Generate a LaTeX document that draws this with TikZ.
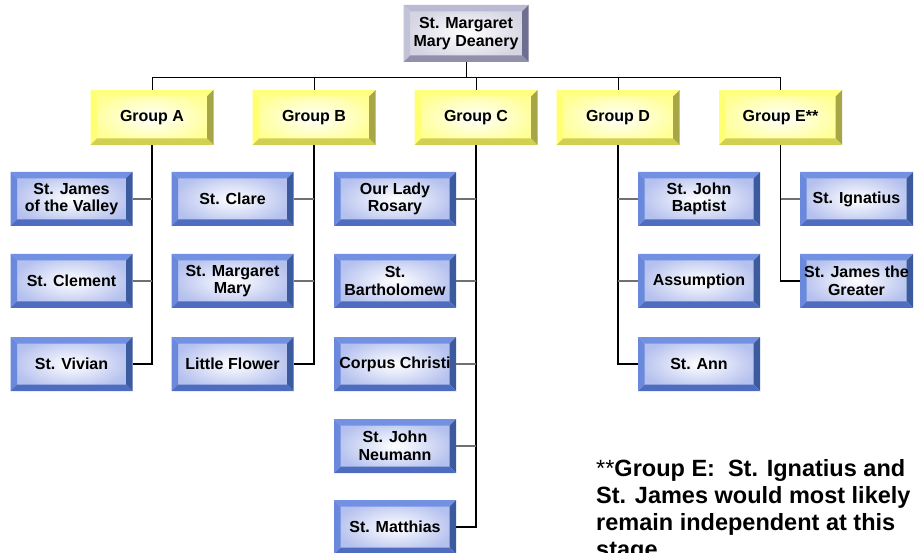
\documentclass[tikz,border=0pt]{standalone}
\usepackage{fontspec}
\setmainfont{Liberation Sans}
\usetikzlibrary{calc}
\definecolor{bTop}{HTML}{7391E2}
\definecolor{bLeft}{HTML}{6A89DC}
\definecolor{bRight}{HTML}{3C5A9E}
\definecolor{bBot}{HTML}{4E6DC0}
\definecolor{bIn}{HTML}{B4C0EE}
\definecolor{yTop}{HTML}{FFFF80}
\definecolor{yLeft}{HTML}{FFFF74}
\definecolor{yRight}{HTML}{A6A646}
\definecolor{yBot}{HTML}{D2D052}
\definecolor{yIn}{HTML}{FFFF96}
\definecolor{gTop}{HTML}{BABAD2}
\definecolor{gLeft}{HTML}{C2C2D8}
\definecolor{gRight}{HTML}{6E6E90}
\definecolor{gBot}{HTML}{9090AC}
\definecolor{gIn}{HTML}{D4D4E2}
\definecolor{stubgray}{HTML}{707070}
\newcommand\bvw{6.5pt}
\newcommand\bevelpic[5]{%
  \shade[inner color=white, outer color=#5]
    ($(path picture bounding box.north west)+(\bvw,-\bvw)$) rectangle
    ($(path picture bounding box.south east)+(-\bvw,\bvw)$);
  \fill[#1] (path picture bounding box.north west) -- (path picture bounding box.north east)
    -- ++(-\bvw,-\bvw) -- ($(path picture bounding box.north west)+(\bvw,-\bvw)$) -- cycle;
  \fill[#2] (path picture bounding box.north west) -- (path picture bounding box.south west)
    -- ++(\bvw,\bvw) -- ($(path picture bounding box.north west)+(\bvw,-\bvw)$) -- cycle;
  \fill[#3] (path picture bounding box.north east) -- (path picture bounding box.south east)
    -- ++(-\bvw,\bvw) -- ($(path picture bounding box.north east)+(-\bvw,-\bvw)$) -- cycle;
  \fill[#4] (path picture bounding box.south west) -- (path picture bounding box.south east)
    -- ++(-\bvw,\bvw) -- ($(path picture bounding box.south west)+(\bvw,\bvw)$) -- cycle;
}
\tikzset{
  boxbase/.style={rectangle, inner sep=0pt, align=center,
    font=\bfseries\fontsize{16}{17.5}\selectfont},
  parish/.style={boxbase, minimum width=122pt, minimum height=54pt,
    path picture={\bevelpic{bTop}{bLeft}{bRight}{bBot}{bIn}}},
  grp/.style={boxbase, minimum width=123pt, minimum height=55pt,
    path picture={\bevelpic{yTop}{yLeft}{yRight}{yBot}{yIn}}},
  topbox/.style={boxbase, minimum width=125pt, minimum height=57pt,
    path picture={\bevelpic{gTop}{gLeft}{gRight}{gBot}{gIn}}},
  conn/.style={draw=black, line width=1pt},
  vline/.style={draw=black, line width=1.4pt},
  stub/.style={draw=stubgray, line width=1.2pt},
  note/.style={anchor=base west, inner sep=0pt, align=left,
    font=\bfseries\fontsize{23.5}{27}\selectfont}
}
\begin{document}
\begin{tikzpicture}[x=1pt,y=1pt]
\clip (0,0) rectangle (915,552);
\useasboundingbox (0,0) rectangle (915,552);
\fill[white] (0,0) rectangle (915,552);

% top
\node[topbox] (top) at (466,518.5) {St. Margaret\\Mary Deanery};
\coordinate (bar) at (466,474);

% groups
\node[grp] (gA) at (152,434.5) {Group A};
\node[grp] (gB) at (314,434.5) {Group B};
\node[grp] (gC) at (476,434.5) {Group C};
\node[grp] (gD) at (618,434.5) {Group D};
\node[grp] (gE) at (780.5,434.5) {Group E**};

% parishes A
\node[parish] (a1) at (71.5,353) {St. James\\of the Valley};
\node[parish] (a2) at (71.5,271) {St. Clement};
\node[parish] (a3) at (71.5,188) {St. Vivian};
% B
\node[parish] (b1) at (232.5,353) {St. Clare};
\node[parish] (b2) at (232.5,271) {St. Margaret\\Mary};
\node[parish] (b3) at (232.5,188) {Little Flower};
% C
\node[parish] (c1) at (395,353) {Our Lady\\Rosary};
\node[parish] (c2) at (395,271) {St.\\Bartholomew};
\node[parish] (c3) at (395,188) {Corpus Christi};
\node[parish] (c4) at (395,106) {St. John\\Neumann};
\node[parish] (c5) at (395,25) {St. Matthias};
% D
\node[parish] (d1) at (699,353) {St. John\\Baptist};
\node[parish] (d2) at (699,271) {Assumption};
\node[parish] (d3) at (699,188) {St. Ann};
% E
\node[parish, minimum width=113pt] (e1) at (856.5,353) {St. Ignatius};
\node[parish, minimum width=113pt] (e2) at (856.5,271) {St. James the\\Greater};

% connectors top
\draw[conn] (top.south) -- (bar);
\foreach \g in {gA,gB,gC,gD,gE} {\draw[conn] (bar) -| (\g.north);}

% group verticals
\draw[vline] (gA.south) |- (a3.east);
\draw[stub] (a1.east) -- (a1.east -| gA.south);
\draw[stub] (a2.east) -- (a2.east -| gA.south);

\draw[vline] (gB.south) |- (b3.east);
\draw[stub] (b1.east) -- (b1.east -| gB.south);
\draw[stub] (b2.east) -- (b2.east -| gB.south);

\draw[vline] (gC.south) |- (c5.east);
\draw[stub] (c1.east) -- (c1.east -| gC.south);
\draw[stub] (c2.east) -- (c2.east -| gC.south);
\draw[stub] (c3.east) -- (c3.east -| gC.south);
\draw[stub] (c4.east) -- (c4.east -| gC.south);

\draw[vline] (gD.south) |- (d3.west);
\draw[stub] (d1.west) -- (d1.west -| gD.south);
\draw[stub] (d2.west) -- (d2.west -| gD.south);

\draw[vline] (gE.south) |- (e2.west);
\draw[stub] (e1.west) -- (e1.west -| gE.south);

% note
\node[note] (note) at (596,-5) {{\mdseries**}Group E:\ \ St. Ignatius and\\St. James would most likely\\remain independent at this\\stage};
\end{tikzpicture}
\end{document}
